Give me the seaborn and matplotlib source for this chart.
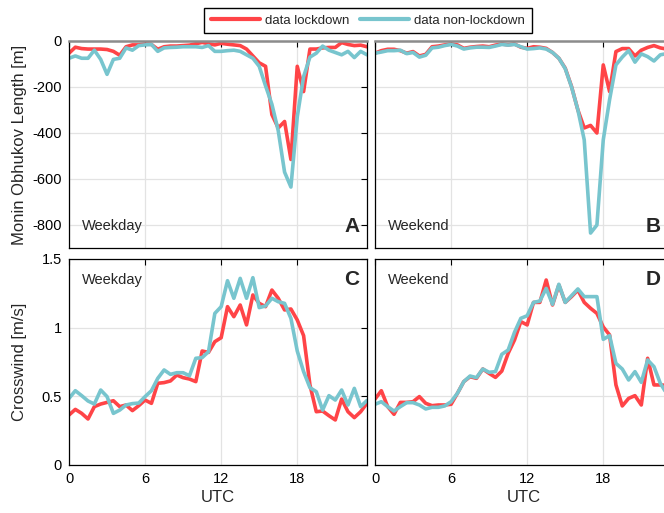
import numpy as np
import pandas as pd
import matplotlib
matplotlib.use("Agg")
import matplotlib.pyplot as plt
import seaborn as sns

# half-hourly UTC time steps
hours = np.arange(0, 24, 0.5)

# Monin Obhukov length [m]
mol_weekday_lock = [-53, -27, -33, -35, -35, -35, -37, -45, -62, -25,
                    -17, -17, -13, -15, -36, -25, -22, -22, -20, -18,
                    -12, -6, -12, -17, -10, -14, -17, -20, -35, -65,
                    -95, -110, -320, -378, -350, -515, -110, -220, -35, -35,
                    -30, -28, -28, -7, -15, -20, -18, -25]
mol_weekday_free = [-75, -65, -75, -75, -40, -80, -145, -80, -75, -30,
                    -40, -20, -17, -15, -45, -30, -28, -27, -25, -25,
                    -25, -28, -20, -45, -45, -42, -40, -45, -60, -75,
                    -110, -195, -275, -390, -570, -635, -330, -155, -70, -53,
                    -22, -40, -50, -60, -45, -72, -45, -60]
mol_weekend_lock = [-53, -42, -36, -36, -42, -53, -46, -65, -58, -25,
                    -22, -17, -13, -17, -32, -27, -24, -22, -25, -18,
                    -13, -17, -13, -27, -32, -25, -27, -32, -50, -75,
                    -118, -198, -300, -378, -367, -400, -104, -220, -46, -33,
                    -33, -65, -40, -28, -20, -30, -35, -40]
mol_weekend_free = [-53, -48, -42, -42, -40, -55, -50, -70, -62, -30,
                    -27, -20, -15, -22, -35, -30, -27, -27, -28, -22,
                    -15, -18, -15, -25, -35, -33, -30, -35, -50, -75,
                    -120, -200, -300, -430, -835, -800, -430, -255, -104, -70,
                    -42, -92, -56, -68, -87, -60, -55, -50]

# crosswind [m/s]
cw_weekday_lock = [0.364, 0.405, 0.376, 0.335, 0.425, 0.444, 0.456, 0.468, 0.425, 0.437,
                   0.396, 0.432, 0.473, 0.449, 0.595, 0.600, 0.612, 0.655, 0.636, 0.626,
                   0.607, 0.830, 0.820, 0.898, 0.927, 1.153, 1.080, 1.165, 1.020, 1.238,
                   1.177, 1.153, 1.274, 1.214, 1.129, 1.136, 1.056, 0.942, 0.583, 0.388,
                   0.393, 0.359, 0.328, 0.480, 0.388, 0.345, 0.388, 0.450]
cw_weekday_free = [0.485, 0.541, 0.505, 0.466, 0.444, 0.546, 0.498, 0.376, 0.400, 0.437,
                   0.447, 0.451, 0.498, 0.541, 0.631, 0.692, 0.660, 0.672, 0.672, 0.650,
                   0.777, 0.782, 0.825, 1.104, 1.153, 1.342, 1.214, 1.359, 1.214, 1.364,
                   1.146, 1.158, 1.214, 1.189, 1.177, 1.068, 0.830, 0.680, 0.563, 0.534,
                   0.400, 0.505, 0.473, 0.546, 0.437, 0.558, 0.425, 0.470]
cw_weekend_lock = [0.480, 0.541, 0.425, 0.369, 0.456, 0.456, 0.461, 0.498, 0.449, 0.432,
                   0.437, 0.437, 0.442, 0.522, 0.607, 0.643, 0.631, 0.699, 0.667, 0.638,
                   0.684, 0.813, 0.910, 1.044, 1.020, 1.184, 1.184, 1.347, 1.165, 1.311,
                   1.184, 1.226, 1.274, 1.184, 1.141, 1.104, 1.005, 0.947, 0.583, 0.430,
                   0.485, 0.505, 0.437, 0.777, 0.583, 0.583, 0.580, 0.520]
cw_weekend_free = [0.442, 0.461, 0.425, 0.393, 0.425, 0.454, 0.454, 0.437, 0.408, 0.420,
                   0.420, 0.430, 0.461, 0.522, 0.607, 0.648, 0.636, 0.699, 0.675, 0.680,
                   0.806, 0.837, 0.966, 1.068, 1.087, 1.184, 1.194, 1.286, 1.170, 1.316,
                   1.184, 1.233, 1.282, 1.226, 1.226, 1.226, 0.915, 0.942, 0.740, 0.699,
                   0.619, 0.680, 0.602, 0.765, 0.716, 0.595, 0.520, 0.500]

series_names = ["data lockdown", "data non-lockdown"]
palette = {"data lockdown": "#FF4447", "data non-lockdown": "#78C5CE"}

panels = [
    ("A", "Weekday", mol_weekday_lock, mol_weekday_free),
    ("B", "Weekend", mol_weekend_lock, mol_weekend_free),
    ("C", "Weekday", cw_weekday_lock, cw_weekday_free),
    ("D", "Weekend", cw_weekend_lock, cw_weekend_free),
]

sns.set_style("white")
plt.rcParams["font.family"] = ["Liberation Sans", "DejaVu Sans"]
plt.rcParams["axes.unicode_minus"] = False

W, H = 664, 513
fig = plt.figure(figsize=(W / 100, H / 100), dpi=100)

# axes boxes in pixel coords: (left, top, right, bottom)
boxes = {
    "A": (69, 41, 367, 248),
    "B": (375, 41, 673, 248),
    "C": (69, 259, 367, 465),
    "D": (375, 259, 673, 465),
}

axes = {}
for letter, day, lock, free in panels:
    l, t, r, b = boxes[letter]
    ax = fig.add_axes([l / W, 1 - b / H, (r - l) / W, (b - t) / H])
    axes[letter] = ax
    df = pd.DataFrame({
        "UTC": np.concatenate([hours, hours]),
        "value": np.concatenate([lock, free]),
        "series": [series_names[0]] * len(hours) + [series_names[1]] * len(hours),
    })
    sns.lineplot(data=df, x="UTC", y="value", hue="series", hue_order=series_names,
                 palette=palette, linewidth=2.6, ax=ax, legend=False)

    top_row = letter in ("A", "B")
    ax.set_xlim(0, 23.5)
    ax.set_xticks([0, 6, 12, 18])
    if top_row:
        ax.set_ylim(-900, 0)
        ax.set_yticks([-800, -600, -400, -200, 0])
    else:
        ax.set_ylim(0, 1.5)
        ax.set_yticks([0, 0.5, 1, 1.5])
        ax.set_yticklabels(["0", "0.5", "1", "1.5"])

    ax.grid(True, color="#e3e3e3", linewidth=0.9)
    ax.tick_params(direction="in", top=True, right=True, length=4, width=0.8,
                   labelsize=10.5, colors="black", pad=5)
    for sp in ax.spines.values():
        sp.set_color("black")
        sp.set_linewidth(0.9)
    if top_row:
        ax.spines["top"].set_color("#8c8c8c")
        ax.spines["top"].set_linewidth(1.8)

    if letter in ("B", "D"):
        ax.set_yticklabels([])
    if top_row:
        ax.set_xticklabels([])
        ax.set_xlabel("")
    else:
        ax.set_xlabel("UTC", fontsize=12, labelpad=3)

    ax.set_ylabel("")
    ty = 0.105 if top_row else 0.9
    ax.text(0.045, ty, day, transform=ax.transAxes, fontsize=10.5,
            ha="left", va="center")
    ax.text(0.975 if letter in ("A", "C") else 0.96, ty, letter,
            transform=ax.transAxes, fontsize=15, fontweight="bold",
            ha="right", va="center")

axes["A"].set_ylabel("Monin Obhukov Length [m]", fontsize=12)
axes["A"].yaxis.set_label_coords(-0.14, 0.5)
axes["C"].set_ylabel("Crosswind [m/s]", fontsize=12)
axes["C"].yaxis.set_label_coords(-0.14, 0.5)

handles = [plt.Line2D([], [], color=palette[n], linewidth=3) for n in series_names]
fig.legend(handles, series_names, loc="center", ncol=2,
           bbox_to_anchor=(368 / W, 1 - 20.5 / H), fontsize=9.5,
           frameon=True, fancybox=False, edgecolor="black", framealpha=1,
           handlelength=3.7, handletextpad=0.4, columnspacing=0.8,
           borderpad=0.5)

fig.savefig("out.png", dpi=100)
